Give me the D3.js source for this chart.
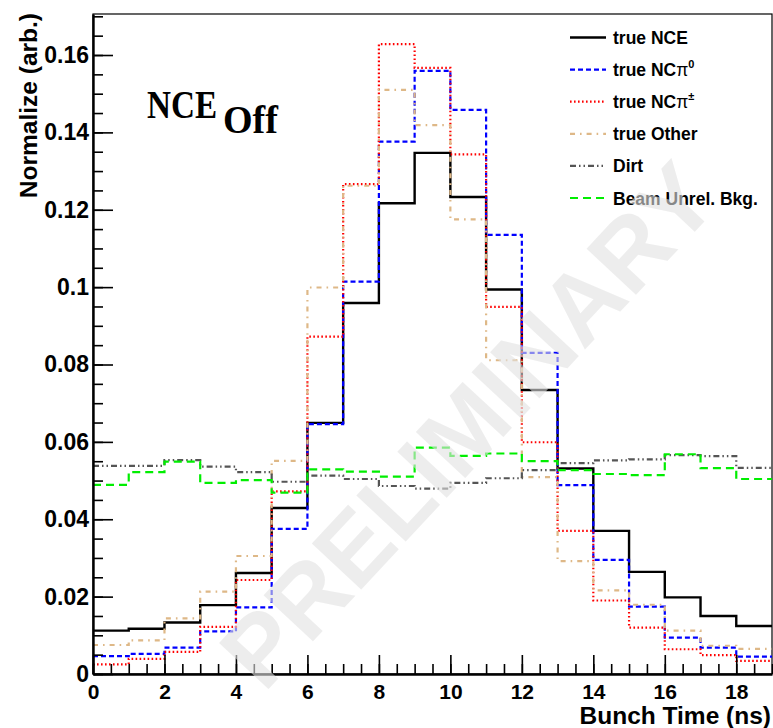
<!DOCTYPE html>
<html>
<head>
<meta charset="utf-8">
<script src="https://cdn.jsdelivr.net/npm/d3@7"></script>
<style>
  body { margin: 0; background: #fff; }
  svg { display: block; font-family: "Liberation Sans", Arial, sans-serif; }
  .axis text { font-weight: bold; font-size: 23px; fill: #000; }
  .axis path, .axis line { stroke: #000; }
</style>
</head>
<body>
<svg id="chart" width="773" height="728"></svg>
<script>
// bin lower edges (ns), 1 ns wide bins
var binLow = [0, 1, 2, 3, 4, 5, 6, 7, 8, 9, 10, 11, 12, 13, 14, 15, 16, 17, 18];

var trueNCE  = [0.0112, 0.0117, 0.0133, 0.0178, 0.0261, 0.0429, 0.0649, 0.0959, 0.1217, 0.1347,
                0.1233, 0.0994, 0.0734, 0.0531, 0.0370, 0.0264, 0.0198, 0.0150, 0.0124];
var trueNCpi0 = [0.0046, 0.0052, 0.0068, 0.0110, 0.0172, 0.0375, 0.0646, 0.1014, 0.1376, 0.1559,
                0.1458, 0.1135, 0.0830, 0.0488, 0.0295, 0.0174, 0.0094, 0.0068, 0.0045];
var trueNCpipm = [0.0025, 0.0039, 0.0057, 0.0122, 0.0243, 0.0472, 0.0872, 0.1266, 0.1628, 0.1567,
                0.1343, 0.0949, 0.0599, 0.0370, 0.0190, 0.0120, 0.0064, 0.0049, 0.0034];
var trueOther = [0.0075, 0.0087, 0.0144, 0.0213, 0.0305, 0.0551, 0.0999, 0.1262, 0.1510, 0.1419,
                0.1175, 0.0811, 0.0509, 0.0292, 0.0216, 0.0179, 0.0112, 0.0073, 0.0065];
var dirt     = [0.0538, 0.0538, 0.0553, 0.0536, 0.0522, 0.0497, 0.0513, 0.0504, 0.0486, 0.0479,
                0.0494, 0.0506, 0.0527, 0.0545, 0.0552, 0.0555, 0.0566, 0.0563, 0.0533];
var beamUnrel = [0.0489, 0.0522, 0.0549, 0.0494, 0.0501, 0.0469, 0.0529, 0.0523, 0.0510, 0.0585,
                0.0564, 0.0570, 0.0550, 0.0527, 0.0517, 0.0514, 0.0568, 0.0532, 0.0504];

var yTickValues = [0, 0.02, 0.04, 0.06, 0.08, 0.1, 0.12, 0.14, 0.16];
var yTickLabels = ["0", "0.02", "0.04", "0.06", "0.08", "0.1", "0.12", "0.14", "0.16"];
var xTickValues = [0, 2, 4, 6, 8, 10, 12, 14, 16, 18];

var series = [
  { name: "true NCE",  values: trueNCE,    color: "#000000", dash: null,              width: 2.4 },
  { name: "true NCpi0", values: trueNCpi0, color: "#0000ff", dash: "5,3",             width: 2.2 },
  { name: "true NCpipm", values: trueNCpipm, color: "#ff0000", dash: "1.6,2.4",       width: 2.2 },
  { name: "true Other", values: trueOther, color: "#deb887", dash: "5,5,1.6,5",       width: 2.2 },
  { name: "Dirt",      values: dirt,       color: "#555555", dash: "6,3,1.5,3,1.5,3", width: 2.2 },
  { name: "Beam Unrel. Bkg.", values: beamUnrel, color: "#00ee00", dash: "8,5",       width: 2.2 }
];

var margin = { left: 93, right: 772, top: 14, bottom: 674 };

var svg = d3.select("#chart");

var x = d3.scaleLinear()
    .domain([0, 19])
    .range([margin.left, margin.right]);

var y = d3.scaleLinear()
    .domain([0, 0.1706])
    .range([margin.bottom, margin.top]);

// frame
svg.append("rect")
    .attr("x", margin.left)
    .attr("y", margin.top)
    .attr("width", margin.right - margin.left)
    .attr("height", margin.bottom - margin.top)
    .attr("fill", "none")
    .attr("stroke", "#000")
    .attr("stroke-width", 1.2);

// histograms
var line = d3.line()
    .x(function(d) { return x(d[0]); })
    .y(function(d) { return y(d[1]); })
    .curve(d3.curveStepAfter);

var g = svg.append("g");

series.forEach(function(s) {
  var pts = binLow.map(function(b, i) { return [b, s.values[i]]; });
  pts.push([binLow[binLow.length - 1] + 1, s.values[s.values.length - 1]]);
  g.append("path")
      .attr("d", line(pts))
      .attr("fill", "none")
      .attr("stroke", s.color)
      .attr("stroke-width", s.width)
      .attr("stroke-dasharray", s.dash);
});

// axes (ticks pointing inward like ROOT)
var yMinor = d3.range(0, 0.1706, 0.005);
svg.append("g")
    .attr("class", "axis")
    .attr("transform", "translate(" + margin.left + ",0)")
    .call(d3.axisLeft(y).tickValues(yMinor).tickSize(-10).tickSizeOuter(0).tickFormat(""))
    .call(function(a) { a.select(".domain").remove(); a.selectAll("line").attr("stroke-width", 1.6); });

svg.append("g")
    .attr("class", "axis")
    .attr("transform", "translate(" + margin.left + ",0)")
    .call(d3.axisLeft(y).tickValues(yTickValues).tickSize(-20).tickSizeOuter(0).tickPadding(4)
          .tickFormat(function(d, i) { return yTickLabels[i]; }))
    .call(function(a) {
      a.select(".domain").attr("stroke-width", 2.4);
      a.selectAll("line").attr("stroke-width", 1.6);
    });

var xMinor = d3.range(0, 19.01, 0.5);
svg.append("g")
    .attr("class", "axis")
    .attr("transform", "translate(0," + margin.bottom + ")")
    .call(d3.axisBottom(x).tickValues(xMinor).tickSize(-10).tickSizeOuter(0).tickFormat(""))
    .call(function(a) { a.select(".domain").remove(); a.selectAll("line").attr("stroke-width", 1.6); });

svg.append("g")
    .attr("class", "axis")
    .attr("transform", "translate(0," + margin.bottom + ")")
    .call(d3.axisBottom(x).tickValues(xTickValues).tickSize(-19).tickSizeOuter(0).tickPadding(10))
    .call(function(a) {
      a.select(".domain").attr("stroke-width", 2.4);
      a.selectAll("line").attr("stroke-width", 1.6);
      a.selectAll("text").style("font-size", "21px");
    });

// axis titles
svg.append("text")
    .attr("x", margin.right - 1)
    .attr("y", 724)
    .attr("text-anchor", "end")
    .style("font-weight", "bold")
    .style("font-size", "24.5px")
    .text("Bunch Time (ns)");

svg.append("text")
    .attr("transform", "translate(37," + (margin.top - 1) + ") rotate(-90)")
    .attr("text-anchor", "end")
    .style("font-weight", "bold")
    .style("font-size", "24.5px")
    .text("Normalize (arb.)");

// NCE_Off label, main part and subscript
svg.append("text")
    .attr("x", 147).attr("y", 118)
    .attr("textLength", 70).attr("lengthAdjust", "spacingAndGlyphs")
    .style("font-family", "'Liberation Serif', 'DejaVu Serif', serif")
    .style("font-weight", "bold")
    .style("font-size", "40px")
    .text("NCE");
svg.append("text")
    .attr("x", 223).attr("y", 133)
    .attr("textLength", 55).attr("lengthAdjust", "spacingAndGlyphs")
    .style("font-family", "'Liberation Serif', 'DejaVu Serif', serif")
    .style("font-weight", "bold")
    .style("font-size", "40px")
    .text("Off");

// legend
var legendLabels = [
  ["true NCE", "", ""],
  ["true NC", "\u03c0", "0"],
  ["true NC", "\u03c0", "\u00b1"],
  ["true Other", "", ""],
  ["Dirt", "", ""],
  ["Beam Unrel. Bkg.", "", ""]
];

var leg = svg.append("g");
series.forEach(function(s, i) {
  var ly = 37.5 + i * 32.1;
  leg.append("line")
      .attr("x1", 570).attr("x2", 606)
      .attr("y1", ly).attr("y2", ly)
      .attr("stroke", s.color)
      .attr("stroke-width", s.width)
      .attr("stroke-dasharray", s.dash);
  var t = leg.append("text")
      .attr("x", 613)
      .attr("y", ly + 6.5)
      .style("font-weight", "bold")
      .style("font-size", "17.5px");
  t.append("tspan").text(legendLabels[i][0]);
  if (legendLabels[i][1]) {
    t.append("tspan").style("font-weight", "normal").text(legendLabels[i][1]);
    t.append("tspan").attr("dy", -8).style("font-size", "11px").text(legendLabels[i][2]);
  }
});

// watermark drawn over everything, semi transparent
svg.append("text")
    .attr("transform", "translate(468,425) rotate(-47)")
    .attr("text-anchor", "middle")
    .attr("dominant-baseline", "central")
    .style("font-weight", "bold")
    .style("font-size", "98px")
    .style("fill", "#e2e2e2")
    .style("opacity", 0.6)
    .text("PRELIMINARY");
</script>
</body>
</html>
